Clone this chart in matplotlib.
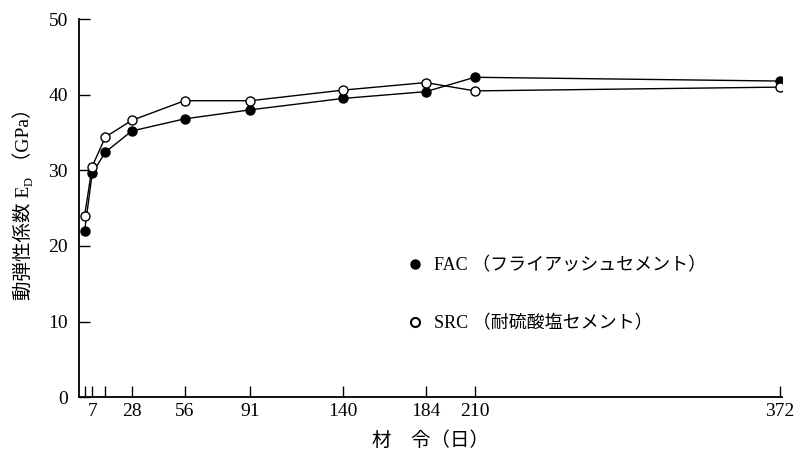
import matplotlib
matplotlib.use("Agg")
import matplotlib.pyplot as plt
from matplotlib.lines import Line2D

SERIF_JP = ['Liberation Serif', 'Noto Sans CJK JP', 'DejaVu Sans']
plt.rcParams['font.family'] = SERIF_JP

# Age in days and dynamic modulus of elasticity (GPa)
age_days = [3, 7, 14, 28, 56, 91, 140, 184, 210, 372]
fac_ed = [22.0, 29.6, 32.4, 35.2, 36.8, 38.0, 39.5, 40.4, 42.3, 41.8]
src_ed = [24.0, 30.5, 34.4, 36.6, 39.2, 39.2, 40.6, 41.6, 40.5, 41.0]

x_ticks = [3, 7, 14, 28, 56, 91, 140, 184, 210, 372]
x_tick_labels = ['', '7', '', '28', '56', '91', '140', '184', '210', '372']
y_ticks = [0, 10, 20, 30, 40, 50]

W, H = 797, 455
fig = plt.figure(figsize=(W / 100, H / 100), dpi=100)
ax = fig.add_axes([0.0991, 0.1268, 0.882, 0.8314])

ax.plot(age_days, fac_ed, color='black', lw=1.0, marker='o', ms=6.5,
        mfc='black', mec='black', mew=1.0, zorder=3)
ax.plot(age_days, src_ed, color='black', lw=1.0, marker='o', ms=6.5,
        mfc='white', mec='black', mew=1.0, zorder=3)

ax.set_xlim(0, 373)
ax.set_ylim(0, 50)
ax.set_xticks(x_ticks)
ax.set_xticklabels(x_tick_labels)
ax.set_yticks(y_ticks)
ax.tick_params(direction='in', length=8, width=1.0, labelsize=14, colors='black')
ax.tick_params(axis='x', pad=4)
ax.tick_params(axis='y', pad=8)

for side in ('top', 'right'):
    ax.spines[side].set_visible(False)
for side in ('left', 'bottom'):
    ax.spines[side].set_linewidth(1.3)

ax.set_xlabel('材　令（日）', fontsize=14, labelpad=8)

# y-axis label built from pieces so the subscript D can sit under the baseline
renderer = fig.canvas.get_renderer()
pieces = [
    ('動弾性係数 E', 14, 0),
    ('D', 9, 4),
    (' （GPa）', 14, 0),
]
texts = []
total = 0.0
for s, size, _ in pieces:
    t = fig.text(0, 0, s, fontsize=size, rotation=90,
                 rotation_mode='anchor', ha='left', va='baseline')
    ext = t.get_window_extent(renderer)
    texts.append((t, ext.height))
    total += ext.height
baseline_x = 29
y = (H - 200) - total / 2
for (t, length), (_, _, shift) in zip(texts, pieces):
    t.set_position(((baseline_x + shift) / W, y / H))
    y += length + 0.5

handles = [
    Line2D([], [], ls='none', marker='o', ms=6.5, mfc='black', mec='black'),
    Line2D([], [], ls='none', marker='o', ms=6.5, mfc='white', mec='black', mew=1.5),
]
labels = ['FAC （フライアッシュセメント）', 'SRC （耐硫酸塩セメント）']
ax.legend(handles, labels, loc='upper left', bbox_to_anchor=(0.452, 0.395),
          frameon=False, fontsize=13, labelspacing=2.25, handlelength=1.0,
          handletextpad=0.55, borderpad=0)

fig.savefig('out.png', dpi=100)
